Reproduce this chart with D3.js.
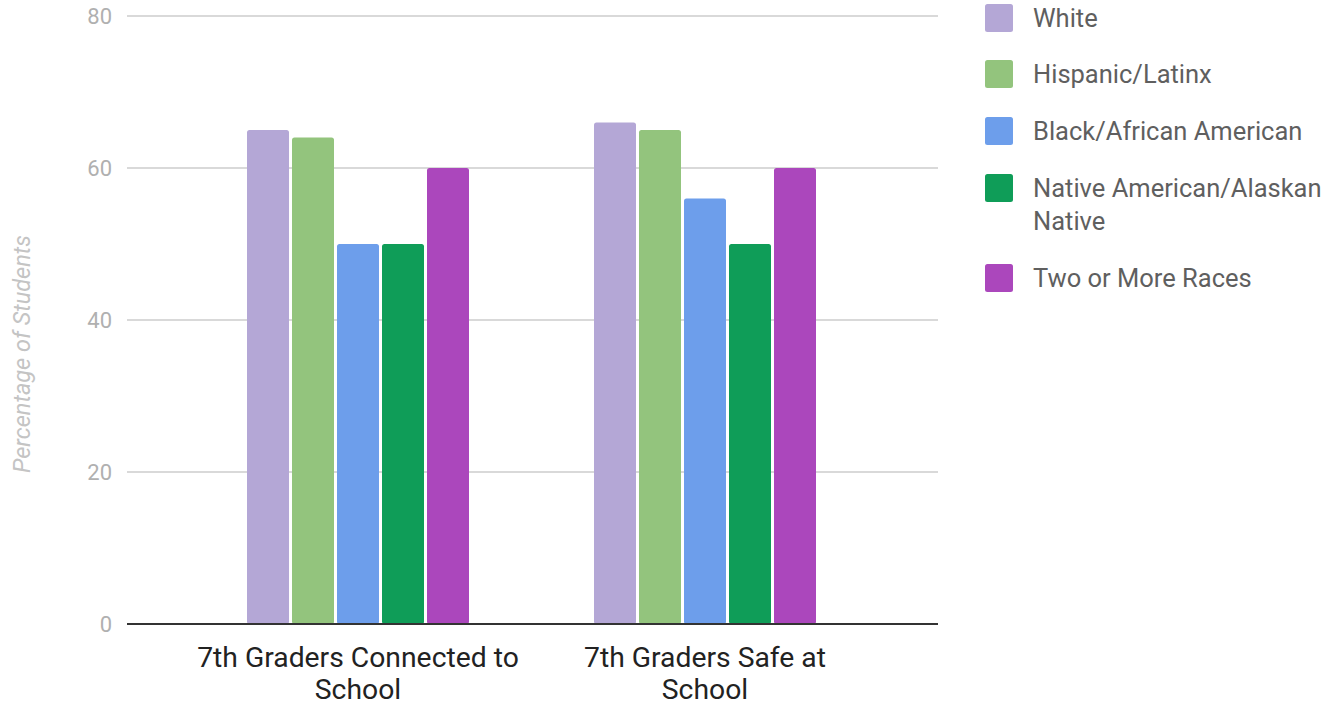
<!DOCTYPE html>
<html><head><meta charset="utf-8">
<script src="https://cdn.jsdelivr.net/npm/d3@7/dist/d3.min.js"></script>
<style>body{margin:0;background:#fff;} svg{display:block;font-family:Roboto, sans-serif;}</style>
</head><body>
<svg id="c" width="1330" height="705"></svg>
<script>
const categories = [["7th Graders Connected to", "School"], ["7th Graders Safe at", "School"]];
const categoryKeys = ["connected", "safe"];
const seriesNames = ["White", "Hispanic/Latinx", "Black/African American", "Native American/Alaskan Native", "Two or More Races"];
const legendLines = [["White"], ["Hispanic/Latinx"], ["Black/African American"], ["Native American/Alaskan", "Native"], ["Two or More Races"]];
const seriesColors = ["#b4a7d6", "#93c47d", "#6d9eeb", "#0f9d58", "#ab47bc"];
const connectedValues = [65, 64, 50, 50, 60];
const safeValues = [66, 65, 56, 50, 60];
const yTicks = [0, 20, 40, 60, 80];
const yTitle = "Percentage of Students";

const values = [connectedValues, safeValues];
const svg = d3.select("#c");
const plotL = 127, plotR = 938, plotT = 16, plotB = 624;

const y = d3.scaleLinear().domain([0, 80]).range([plotB, plotT]);
const x0 = d3.scaleBand().domain(categoryKeys).range([184.5, 878.5]);
const groupW = 222;
const x1 = d3.scaleBand().domain(seriesNames)
  .range([x0.bandwidth()/2 - groupW/2, x0.bandwidth()/2 + groupW/2])
  .paddingInner(3/45).paddingOuter(0);

// gridlines
svg.append("g").selectAll("line").data(yTicks.filter(t => t > 0)).join("line")
  .attr("x1", plotL).attr("x2", plotR)
  .attr("y1", d => y(d)).attr("y2", d => y(d))
  .attr("stroke", "#cccccc").attr("stroke-width", 1.5);

// y tick labels
svg.append("g").selectAll("text").data(yTicks).join("text")
  .attr("x", 112).attr("y", d => y(d)).attr("dy", "0.36em")
  .attr("text-anchor", "end").attr("font-size", 22).attr("fill", "#b0b0b0")
  .text(d => d);

// y title
svg.append("text")
  .attr("transform", `translate(30,354) rotate(-90)`)
  .attr("text-anchor", "middle").attr("font-size", 23.5).attr("font-style", "italic")
  .attr("fill", "#c4c4c4").text(yTitle);

// bars
const groups = svg.append("g").selectAll("g").data(categoryKeys).join("g")
  .attr("transform", d => `translate(${x0(d)},0)`);
groups.selectAll("rect").data((d, i) => values[i].map((v, j) => ({v, s: seriesNames[j], c: seriesColors[j]})))
  .join("rect")
  .attr("x", d => x1(d.s)).attr("width", x1.bandwidth())
  .attr("y", d => y(d.v)).attr("height", d => y(0) - y(d.v))
  .attr("rx", 2.5).attr("fill", d => d.c);

// baseline
svg.append("line").attr("x1", plotL).attr("x2", plotR)
  .attr("y1", plotB).attr("y2", plotB).attr("stroke", "#333").attr("stroke-width", 2);

// x labels
const xl = svg.append("g").selectAll("text").data(categoryKeys).join("text")
  .attr("x", d => x0(d) + x0.bandwidth()/2).attr("y", 667)
  .attr("text-anchor", "middle").attr("font-size", 28.3).attr("fill", "#222");
xl.each(function(d, i) {
  const t = d3.select(this);
  categories[i].forEach((line, k) => {
    t.append("tspan").attr("x", x0(d) + x0.bandwidth()/2).attr("dy", k === 0 ? 0 : 32).text(line);
  });
});

// legend
const legendY = [4, 60, 117, 174, 264];
const lg = svg.append("g").selectAll("g").data(seriesNames).join("g")
  .attr("transform", (d, i) => `translate(985,${legendY[i]})`);
lg.append("rect").attr("width", 28).attr("height", 28).attr("rx", 2.5)
  .attr("fill", (d, i) => seriesColors[i]);
lg.append("text").attr("x", 48).attr("y", 23).attr("font-size", 25.5).attr("fill", "#5f5f5f")
  .each(function(d, i) {
    const t = d3.select(this);
    legendLines[i].forEach((line, k) => {
      t.append("tspan").attr("x", 48).attr("dy", k === 0 ? 0 : 33).text(line);
    });
  });
</script>
</body></html>
